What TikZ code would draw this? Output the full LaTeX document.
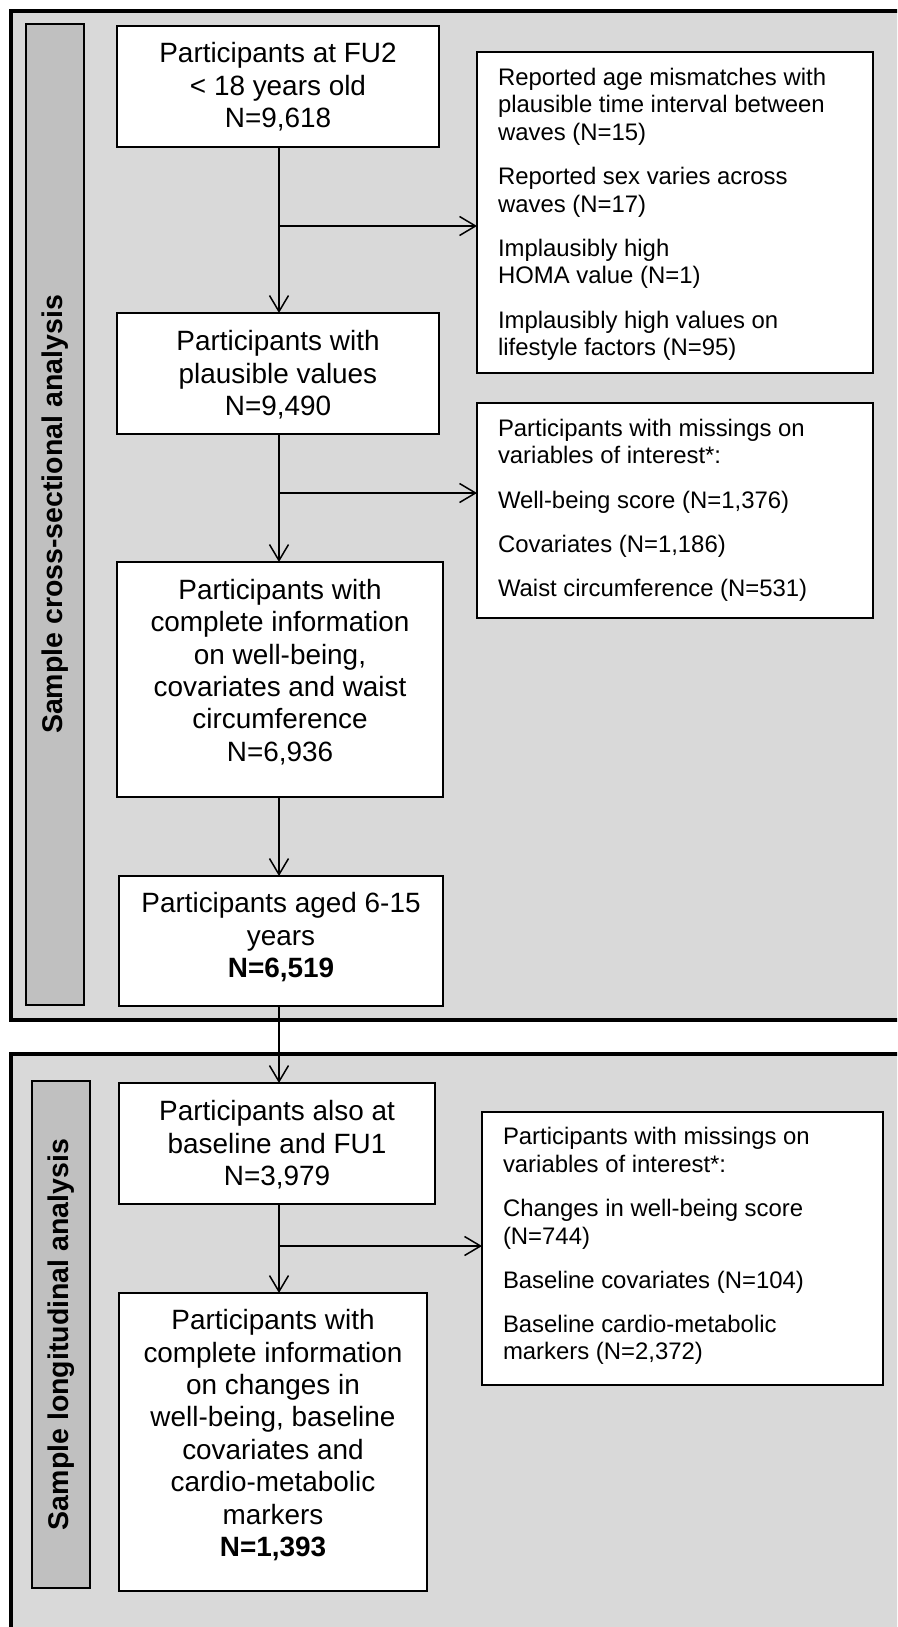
\documentclass[tikz,border=0pt]{standalone}
\usepackage{fontspec}
\setmainfont{Liberation Sans}
\usetikzlibrary{arrows.meta}
\definecolor{panelgray}{HTML}{D9D9D9}
\definecolor{bargray}{HTML}{C0C0C0}
\newcommand\cbx[4]{\parbox[c][#2pt][t]{#1pt}{\centering\fontsize{27.9}{32.4}\selectfont\vspace*{#3pt}#4\par}}
\newcommand\lbx[4]{\parbox[c][#2pt][t]{#1pt}{\raggedright\leftskip=21pt\fontsize{23.9}{27.6}\selectfont\vspace*{#3pt}#4\par}}
\newcommand\xgap{\par\vspace{16.5pt}}
\tikzset{
  panel/.style={draw=black, fill=panelgray, line width=4pt},
  sidebar/.style={draw=black, fill=bargray, line width=1.6pt, rotate=90, inner sep=0pt,
    font=\fontsize{28.5}{30}\selectfont\bfseries},
  stepbox/.style={draw=black, fill=white, line width=1.6pt, inner sep=0pt, outer sep=0pt},
  arr/.style={draw=black, line width=1.5pt, -{Straight Barb[length=16pt,width=19pt]}},
  plain/.style={draw=black, line width=1.5pt}
}
\begin{document}
\begin{tikzpicture}[x=1pt,y=-1pt]
\clip (0,0) rectangle (897,1627);
\fill[white] (0,0) rectangle (897,1627);
% panels
\draw[panel] (11,11) rectangle (930,1020);
\draw[panel] (11,1054) rectangle (930,1660);
% side labels
\node[sidebar, minimum width=981pt, minimum height=58pt] (lab1) at (55,514.5) {Sample cross-sectional analysis};
\node[sidebar, minimum width=507pt, minimum height=58pt] (lab2) at (61,1334.5) {Sample longitudinal analysis};
% main boxes
\node[stepbox] (b1) at (278,86.5) {\cbx{322}{121}{16.5}{Participants at FU2\\< 18 years old\\N=9,618}};
\node[stepbox] (b2) at (278,373.5) {\cbx{322}{121}{17.5}{Participants with\\plausible values\\N=9,490}};
\node[stepbox] (b3) at (280,679.5) {\cbx{326}{235}{17}{Participants with\\complete information\\on well-being,\\covariates and waist\\circumference\\N=6,936}};
\node[stepbox] (b4) at (281,941) {\cbx{324}{130}{16.5}{Participants aged 6-15\\years\\\textbf{N=6,519}}};
\node[stepbox] (b5) at (277,1143.5) {\cbx{316}{121}{17.5}{Participants also at\\baseline and FU1\\N=3,979}};
\node[stepbox] (b6) at (273,1442) {\cbx{308}{298}{16.5}{Participants with\\complete information\\on changes in\\well-being, baseline\\covariates and\\cardio-metabolic\\markers\\\textbf{N=1,393}}};
% exclusion boxes
\node[stepbox] (e1) at (675,212.5) {\lbx{396}{321}{16}{Reported age mismatches with\\plausible time interval between\\waves (N=15)\xgap Reported sex varies across\\waves (N=17)\xgap Implausibly high\\HOMA value (N=1)\xgap Implausibly high values on\\lifestyle factors (N=95)}};
\node[stepbox] (e2) at (675,510.5) {\lbx{396}{215}{16}{Participants with missings on\\variables of interest*:\xgap Well-being score (N=1,376)\xgap Covariates (N=1,186)\xgap Waist circumference (N=531)}};
\node[stepbox] (e3) at (682.5,1248.5) {\lbx{401}{273}{15.5}{Participants with missings on\\variables of interest*:\xgap Changes in well-being score\\(N=744)\xgap Baseline covariates (N=104)\xgap Baseline cardio-metabolic\\markers (N=2,372)}};
% helper coordinates
\coordinate (ax) at (279,0);
\coordinate (br1) at (279,226);
\coordinate (br2) at (279,493);
\coordinate (br3) at (279,1246);
% connectors
\draw[arr] (b1.south -| ax) -- (b2.north -| ax);
\draw[arr] (b2.south -| ax) -- (b3.north -| ax);
\draw[arr] (b3.south -| ax) -- (b4.north -| ax);
\draw[arr] (b4.south -| ax) -- (b5.north -| ax);
\draw[arr] (b5.south -| ax) -- (b6.north -| ax);
\draw[arr] (br1) -- (e1.west |- br1);
\draw[arr] (br2) -- (e2.west |- br2);
\draw[arr] (br3) -- (e3.west |- br3);
\end{tikzpicture}
\end{document}
